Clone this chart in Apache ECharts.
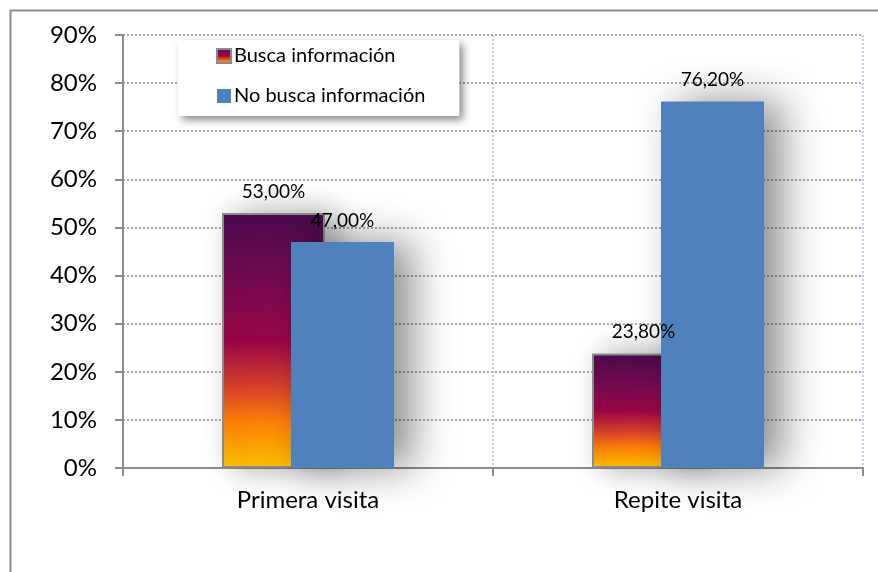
<!DOCTYPE html>
<html>
<head>
<meta charset="utf-8">
<script src="https://cdn.jsdelivr.net/npm/echarts@6/dist/echarts.min.js"></script>
<style>html,body{margin:0;padding:0;background:#fff;}#c{width:878px;height:572px;}</style>
</head>
<body>
<div id="c"></div>
<script>
var categories = ['Primera visita', 'Repite visita'];
var seriesNames = ['Busca información', 'No busca información'];
var buscaValues = [53.0, 23.8];
var noBuscaValues = [47.0, 76.2];
var yTicks = [0, 10, 20, 30, 40, 50, 60, 70, 80, 90];

var font = 'Lato, "Open Sans", sans-serif';
var chart = echarts.init(document.getElementById('c'));
function fmt(v) { return v.toFixed(2).replace('.', ',') + '%'; }
var purpleGrad = new echarts.graphic.LinearGradient(0, 0, 0, 1, [
  { offset: 0, color: '#4a0a4e' },
  { offset: 0.3, color: '#7a0a50' },
  { offset: 0.5, color: '#9a0545' },
  { offset: 0.68, color: '#d8402c' },
  { offset: 0.82, color: '#ff8008' },
  { offset: 1, color: '#ffc400' }
]);
chart.setOption({
  animation: false,
  textStyle: { fontFamily: font },
  graphic: [{
    type: 'rect', left: 8, top: 8, z: -1,
    shape: { width: 1000, height: 1000 },
    style: { fill: 'none', stroke: '#8c8c8c', lineWidth: 2 }
  }],
  grid: { left: 123, right: 15, top: 35, bottom: 104, containLabel: false },
  legend: {
    orient: 'vertical', left: 178, top: 40,
    padding: [6, 34, 10, 38], itemGap: 20,
    itemWidth: 14, itemHeight: 14, icon: 'rect',
    backgroundColor: '#fff',
    shadowColor: 'rgba(0,0,0,0.45)', shadowBlur: 8, shadowOffsetX: 4, shadowOffsetY: 4,
    textStyle: { fontFamily: font, fontSize: 20, color: '#000', padding: [0, 0, 0, -2] },
    data: seriesNames
  },
  xAxis: {
    type: 'category', data: categories,
    axisLine: { lineStyle: { color: '#8c8c8c', width: 2 } },
    axisTick: { show: true, length: 8, lineStyle: { color: '#8c8c8c', width: 2 } },
    axisLabel: { fontFamily: font, fontSize: 24, color: '#000', margin: 20 },
    splitLine: { show: true, lineStyle: { color: '#a8bce0', type: [2, 2], width: 1.5 } }
  },
  yAxis: {
    type: 'value', min: 0, max: 90, interval: 10,
    axisLine: { show: true, lineStyle: { color: '#8c8c8c', width: 2 } },
    axisTick: { show: true, length: 8, lineStyle: { color: '#8c8c8c', width: 2 } },
    axisLabel: { fontFamily: font, fontSize: 24, color: '#000', margin: 26,
      formatter: function (v) { return yTicks.indexOf(v) >= 0 ? v + '%' : ''; } },
    splitLine: { show: true, lineStyle: { color: '#8c8c8c', type: [2, 2], width: 1.5 } }
  },
  series: [{
    name: seriesNames[0], type: 'bar', data: buscaValues,
    barWidth: 103, barGap: '-33%',
    itemStyle: { color: purpleGrad, borderColor: '#8a8a8a', borderWidth: 2,
      shadowColor: 'rgba(0,0,0,0.35)', shadowBlur: 30, shadowOffsetX: 12 },
    label: { show: true, position: 'top', distance: 12, fontFamily: font, fontSize: 19, color: '#000',
      formatter: function (p) { return fmt(p.value); } }
  }, {
    name: seriesNames[1], type: 'bar', data: noBuscaValues,
    barWidth: 103,
    itemStyle: { color: '#4f81bd',
      shadowColor: 'rgba(0,0,0,0.45)', shadowBlur: 40, shadowOffsetX: 18 },
    label: { show: true, position: 'top', distance: 12, fontFamily: font, fontSize: 19, color: '#000',
      formatter: function (p) { return fmt(p.value); } }
  }]
});
</script>
</body>
</html>
